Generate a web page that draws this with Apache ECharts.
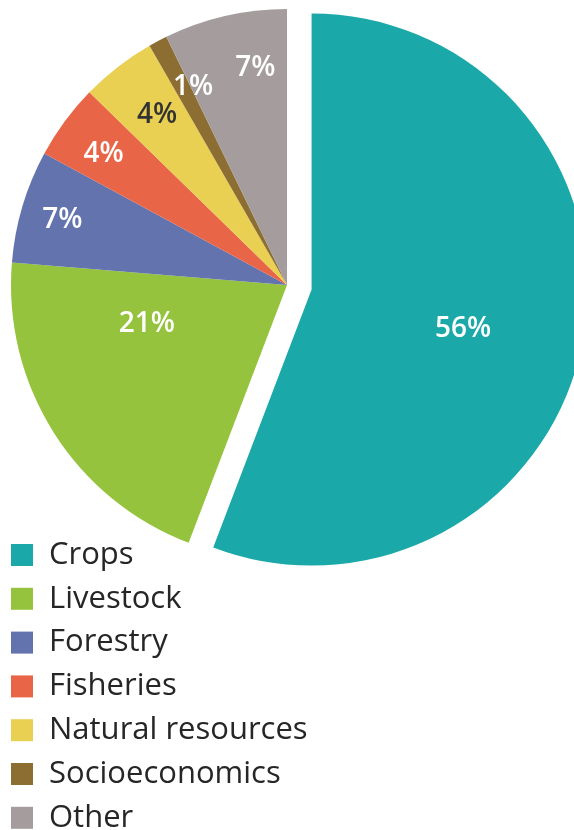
<!DOCTYPE html>
<html>
<head>
<meta charset="utf-8">
<script src="https://cdn.jsdelivr.net/npm/echarts@6/dist/echarts.min.js"></script>
<style>html,body{margin:0;padding:0;background:#fff;}#chart{width:574px;height:830px;}</style>
</head>
<body>
<div id="chart"></div>
<script>
const categories = ['Crops', 'Livestock', 'Forestry', 'Fisheries', 'Natural resources', 'Socioeconomics', 'Other'];
// slice shares (%) as measured from the wedge angles; labels show them rounded
const values = [55.8, 20.5, 6.6, 4.4, 4.4, 1.1, 7.2];
const colors = ['#1BA8A8', '#96C33D', '#6373AE', '#E96547', '#E9CF52', '#8C6E33', '#A59D9D'];
const labelColors = ['#fff', '#fff', '#fff', '#fff', '#333333', '#fff', '#fff'];
const explodedIndex = 0;

// label placement: radius fraction and angular tweak (degrees) relative to slice mid-angle
const labelPlace = [
  {rf: 0.565, da: 3.3}, {rf: 0.525, da: 17.4}, {rf: 0.85, da: 0.1}, {rf: 0.82, da: -0.5},
  {rf: 0.78, da: 0.7}, {rf: 0.80, da: 2.7}, {rf: 0.80, da: 4.7}
];

const CX = 287, CY = 285, R = 276, OFF = 25;
const total = values.reduce((a, b) => a + b, 0);
const mids = [];
let acc = 0;
values.forEach(v => { mids.push((acc + v / 2) / total * 360); acc += v; });
const em = mids[explodedIndex] * Math.PI / 180;
const ECX = CX + OFF * Math.sin(em), ECY = CY - OFF * Math.cos(em);

function makeLayout(cx, cy) {
  return function (params) {
    const i = params.dataIndex;
    const pl = labelPlace[i];
    const a = (mids[i] + pl.da) * Math.PI / 180;
    return {
      x: cx + pl.rf * R * Math.sin(a),
      y: cy - pl.rf * R * Math.cos(a) + 2,
      align: 'center',
      verticalAlign: 'middle'
    };
  };
}

function makeData(exploded) {
  return categories.map((c, i) => {
    const mine = exploded ? i === explodedIndex : i !== explodedIndex;
    return {
      name: c,
      value: values[i],
      itemStyle: {color: mine ? colors[i] : 'rgba(0,0,0,0)'},
      label: {show: mine, color: labelColors[i]}
    };
  });
}

const baseSeries = {
  type: 'pie',
  radius: R,
  startAngle: 90,
  clockwise: true,
  silent: true,
  emphasis: {disabled: true},
  itemStyle: {borderWidth: 0},
  label: {
    position: 'inside',
    formatter: p => Math.round(p.value) + '%',
    fontFamily: 'Open Sans',
    fontWeight: 600,
    fontSize: 28,
    color: '#fff'
  },
  labelLine: {show: false}
};

const chart = echarts.init(document.getElementById('chart'));
chart.setOption({
  animation: false,
  legend: {
    orient: 'vertical',
    left: 11,
    top: 539.5,
    height: 340,
    padding: 0,
    itemWidth: 22,
    itemHeight: 22,
    itemGap: 12.8,
    icon: 'rect',
    selectedMode: false,
    data: categories.map((c, i) => ({name: c, itemStyle: {color: colors[i]}})),
    textStyle: {
      fontFamily: 'Open Sans',
      fontSize: 31,
      color: '#262626',
      padding: [0, 0, 0, 11]
    }
  },
  series: [
    Object.assign({}, baseSeries, {center: [CX, CY], data: makeData(false), labelLayout: makeLayout(CX, CY)}),
    Object.assign({}, baseSeries, {center: [ECX, ECY], data: makeData(true), labelLayout: makeLayout(ECX, ECY)})
  ]
});
</script>
</body>
</html>
